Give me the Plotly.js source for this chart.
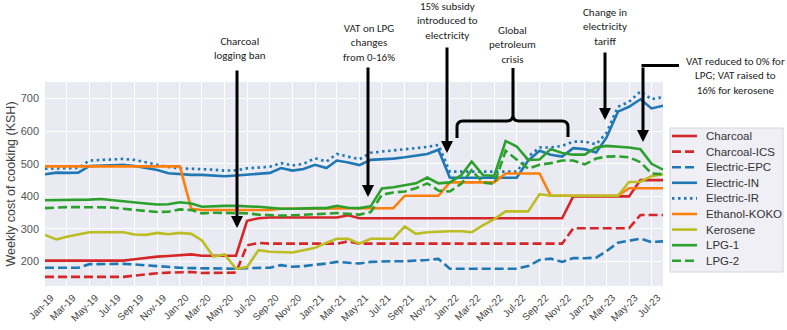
<!DOCTYPE html>
<html>
<head>
<meta charset="utf-8">
<script src="https://cdn.plot.ly/plotly-3.0.1.min.js"></script>
<style>html,body{margin:0;padding:0;background:#fff;}#chart{width:787px;height:330px;}</style>
</head>
<body>
<div id="chart"></div>
<script>
const months = [
'2019-01-01','2019-02-01','2019-03-01','2019-04-01','2019-05-01','2019-06-01','2019-07-01','2019-08-01','2019-09-01','2019-10-01','2019-11-01','2019-12-01',
'2020-01-01','2020-02-01','2020-03-01','2020-04-01','2020-05-01','2020-06-01','2020-07-01','2020-08-01','2020-09-01','2020-10-01','2020-11-01','2020-12-01',
'2021-01-01','2021-02-01','2021-03-01','2021-04-01','2021-05-01','2021-06-01','2021-07-01','2021-08-01','2021-09-01','2021-10-01','2021-11-01','2021-12-01',
'2022-01-01','2022-02-01','2022-03-01','2022-04-01','2022-05-01','2022-06-01','2022-07-01','2022-08-01','2022-09-01','2022-10-01','2022-11-01','2022-12-01',
'2023-01-01','2023-02-01','2023-03-01','2023-04-01','2023-05-01','2023-06-01','2023-07-01','2023-08-01'];

const tickDates = ['2019-01-01','2019-03-01','2019-05-01','2019-07-01','2019-09-01','2019-11-01',
'2020-01-01','2020-03-01','2020-05-01','2020-07-01','2020-09-01','2020-11-01',
'2021-01-01','2021-03-01','2021-05-01','2021-07-01','2021-09-01','2021-11-01',
'2022-01-01','2022-03-01','2022-05-01','2022-07-01','2022-09-01','2022-11-01',
'2023-01-01','2023-03-01','2023-05-01','2023-07-01'];
const tickLabels = ['Jan-19','Mar-19','May-19','Jul-19','Sep-19','Nov-19',
'Jan-20','Mar-20','May-20','Jul-20','Sep-20','Nov-20',
'Jan-21','Mar-21','May-21','Jul-21','Sep-21','Nov-21',
'Jan-22','Mar-22','May-22','Jul-22','Sep-22','Nov-22',
'Jan-23','Mar-23','May-23','Jul-23'];
const yTicks = [200,300,400,500,600,700];

const charcoal = [203,203,203,203,203,203,203,203,207,212, 215,217,219,222,218,218,218,218,325,333,
335,335,335,335,335,335,335,342,333,333, 333,333,333,333,333,333,333,333,333,333,
333,333,333,333,333,333,333,400,400,400, 400,400,400,450,450,450];
const charcoalICS = [153,153,153,153,153,153,153,153,157,161, 164,166,167,168,165,165,165,166,250,257,
255,255,255,255,255,255,255,262,255,255, 255,255,255,255,255,255,255,255,255,255,
255,255,255,255,255,255,255,302,302,302, 302,302,302,343,343,343];
const electricEPC = [181,181,181,181,192,193,193,193,191,188, 185,182,181,180,179,178,178,178,180,181,
181,189,184,186,189,194,199,197,194,199, 201,201,201,202,205,208,178,178,178,178,
178,178,178,186,205,209,199,211,210,212, 232,258,263,270,260,262];
const electricIN = [468,473,472,473,493,495,497,497,493,488, 481,471,468,466,466,464,462,464,466,470,
472,487,479,484,497,487,510,504,496,512, 513,516,520,525,530,543,457,457,457,457,
457,457,457,510,540,528,522,548,545,535, 580,660,675,698,670,678];
const electricIR = [485,486,487,487,510,512,513,515,512,505, 497,490,486,485,484,482,479,480,486,489,
491,502,495,500,517,507,530,522,514,534, 537,541,545,548,552,558,476,476,476,476,
476,476,476,522,550,550,555,568,568,560, 595,675,690,722,698,705];
const ethanolKOKO = [492,492,492,492,492,492,492,492,492,492, 492,492,492,362,358,358,358,358,358,358,
358,362,362,362,362,362,362,362,362,364, 364,364,402,402,402,402,443,443,443,443,
443,470,470,470,470,402,402,402,402,402, 402,402,425,425,425,425];
const kerosene = [282,268,276,282,290,290,290,290,283,282, 288,284,288,285,265,215,222,178,183,235,
230,228,228,235,242,258,270,270,255,270, 270,270,308,285,290,292,293,293,290,312,
330,354,354,354,407,402,402,402,402,402, 402,402,444,445,462,468];
const lpg1 = [388,388,390,390,390,392,388,384,382,378, 375,376,382,378,368,370,371,371,370,368,
365,362,362,364,364,364,371,365,364,370, 424,428,433,440,458,440,443,465,507,465,
463,570,553,512,513,545,533,528,528,550, 555,553,550,545,500,482];
const lpg2 = [364,366,367,367,367,366,366,362,358,355, 352,353,360,358,348,350,350,350,348,344,
342,341,342,343,344,347,349,346,344,352, 405,412,415,425,440,418,415,439,480,442,
438,540,514,485,497,502,510,510,498,516, 522,523,520,505,470,468];

const seriesNames = ['Charcoal','Charcoal-ICS','Electric-EPC','Electric-IN','Electric-IR','Ethanol-KOKO','Kerosene','LPG-1','LPG-2'];
const seriesValues = [charcoal, charcoalICS, electricEPC, electricIN, electricIR, ethanolKOKO, kerosene, lpg1, lpg2];
const seriesColors = ['#d62728','#d62728','#1f77b4','#1f77b4','#1f77b4','#ff7f0e','#bcbd22','#2ca02c','#2ca02c'];
const seriesDash = ['solid','9px,4px','9px,4px','solid','2.5px,3.5px','solid','solid','solid','9px,4px'];

const traces = seriesNames.map((n,i)=>({
  type:'scatter', mode:'lines', name:n, x:months, y:seriesValues[i],
  line:{color:seriesColors[i], width:2.6, dash:seriesDash[i]}, showlegend:false
}));

// pixel -> paper helpers (plot area 45..663 x 82..286)
const L=45, R=663, T=82, B=286;
const px = v => (v-L)/(R-L);
const py = v => (B-v)/(B-T);

const annFont = {family:'Carlito, "Liberation Sans Narrow", "Open Sans", sans-serif', size:11, color:'#222'};
function label(text, cx, cy){
  return {text:text, x:px(cx), y:py(cy), xref:'paper', yref:'paper', showarrow:false,
          xanchor:'center', yanchor:'middle', font:annFont, align:'center'};
}
function arrow(x, tipY, tailY){
  return {text:'', x:px(x), y:py(tipY), xref:'paper', yref:'paper', showarrow:true,
          ax:0, ay:tailY-tipY, arrowhead:2, arrowsize:0.8, arrowwidth:3, arrowcolor:'#000'};
}

const annotations = [
  label('Charcoal<br>logging ban', 240, 49),
  label('VAT on LPG<br>changes<br>from 0-16%', 369, 43),
  label('15% subsidy<br>introduced to<br>electricity', 447, 21.5),
  label('Global<br>petroleum<br>crisis', 512, 45),
  label('Change in<br>electricity<br>tariff', 605, 27),
  label('VAT reduced to 0% for<br>LPG; VAT raised to<br>16% for kerosene', 735, 76),
  arrow(237, 228, 69),
  arrow(368, 197, 66),
  arrow(447, 153, 46),
  arrow(605, 120, 51),
  arrow(643, 142, 66)
];

function P(x,y){ return px(x).toFixed(5)+','+py(y).toFixed(5); }
const bracketPath = 'M'+P(457,138)+' L'+P(457,127)+' Q'+P(457,121)+' '+P(463,121)+
  ' L'+P(507,121)+' Q'+P(513,121)+' '+P(513,115)+' L'+P(513,68)+
  ' M'+P(513,115)+' Q'+P(513,121)+' '+P(519,121)+' L'+P(562,121)+' Q'+P(568,121)+' '+P(568,127)+' L'+P(568,137);

const shapes = [
  {type:'path', xref:'paper', yref:'paper', path:bracketPath, line:{color:'#000', width:3}},
  {type:'line', xref:'paper', yref:'paper', x0:px(641.5), x1:px(679), y0:py(65.5), y1:py(65.5), line:{color:'#000', width:3}}
];

// legend box (drawn as shapes + texts so its row spacing matches)
const legTop = 128, legBottom = 272, legLeft = 670, legRight = 783, legRow0 = 136, legStep = 15.6;
shapes.push({type:'rect', xref:'paper', yref:'paper', x0:px(legLeft), x1:px(legRight), y0:py(legBottom), y1:py(legTop),
  fillcolor:'rgba(238,238,244,0.95)', line:{color:'#d4d4dc', width:1}, layer:'above'});
seriesNames.forEach((n,i)=>{
  const yy = legRow0 + legStep*i;
  shapes.push({type:'line', xref:'paper', yref:'paper', x0:px(672), x1:px(697), y0:py(yy), y1:py(yy),
    line:{color:seriesColors[i], width:2.6, dash:seriesDash[i]}, layer:'above'});
  annotations.push({text:n, x:px(704), y:py(yy), xref:'paper', yref:'paper', showarrow:false,
    xanchor:'left', yanchor:'middle', font:{family:'"Liberation Sans", Arial, sans-serif', size:11.5, color:'#333'}});
});

const layout = {
  width:787, height:330,
  margin:{l:L, r:787-R, t:T, b:330-B},
  paper_bgcolor:'#ffffff', plot_bgcolor:'#eaeaf2',
  font:{family:'"Liberation Sans", Arial, sans-serif', color:'#444'},
  showlegend:false,
  xaxis:{type:'date', range:['2019-01-01','2023-08-01'], tickvals:tickDates, ticktext:tickLabels,
         tickangle:-45, tickfont:{size:10, color:'#444'}, showgrid:true, gridcolor:'#ffffff', gridwidth:1,
         zeroline:false, showline:false, ticks:'', ticklabelshift:6, ticklabelstandoff:3},
  yaxis:{range:[125,751], tickvals:yTicks, tickfont:{size:11, color:'#555'}, showgrid:true,
         gridcolor:'#ffffff', gridwidth:1, zeroline:false, showline:false, ticks:'', ticklabelstandoff:5,
         title:{text:'Weekly cost of cooking (KSH)', font:{size:12.5, color:'#444'}, standoff:2}},
  annotations:annotations,
  shapes:shapes
};

Plotly.newPlot('chart', traces, layout, {staticPlot:true, displayModeBar:false});
</script>
</body>
</html>
